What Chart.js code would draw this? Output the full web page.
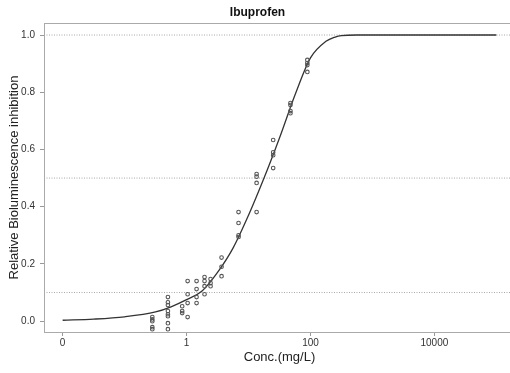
<!DOCTYPE html>
<html>
<head>
<meta charset="utf-8">
<script src="https://cdn.jsdelivr.net/npm/chart.js@4/dist/chart.umd.min.js"></script>
<style>
html,body{margin:0;padding:0;overflow:hidden;background:#fff;width:510px;height:373px;}
canvas{display:block;}
</style>
</head>
<body>
<canvas id="c" width="554" height="373"></canvas>
<script>
// Fitted curve (concentration mg/L, relative inhibition)
const CURVE_X = [0.01, 0.0316, 0.1, 0.316, 0.562, 1, 1.78, 3.16, 5.62, 10, 17.8, 31.6, 56.2, 100, 178, 250, 316, 562, 1000, 100000];
const CURVE_Y = [0.003, 0.007, 0.015, 0.032, 0.05, 0.075, 0.105, 0.17, 0.255, 0.37, 0.50, 0.64, 0.79, 0.92, 0.978, 0.993, 0.998, 1.0, 1.0, 1.0];

// Observations
const OBS_X = [
  0.28,0.28,0.28,0.28,0.28,
  0.5,0.5,0.5,0.5,0.5,0.5,0.5,0.5,
  0.85,0.85,0.85,
  1.04,1.04,1.04,1.04,
  1.45,1.45,1.45,1.45,
  1.95,1.95,1.95,1.95,
  2.44,2.44,2.44,
  3.67,3.67,3.67,
  6.9,6.9,6.9,6.9,
  13.5,13.5,13.5,13.5,
  25,25,25,25,
  47.5,47.5,47.5,47.5,
  89,89,89,89
];
const OBS_Y = [
  0.014,0.006,0.0,-0.021,-0.028,
  0.084,0.066,0.056,0.035,0.024,0.017,-0.007,-0.028,
  0.052,0.035,0.028,
  0.14,0.094,0.063,0.014,
  0.14,0.112,0.084,0.063,
  0.154,0.14,0.122,0.094,
  0.147,0.133,0.122,
  0.222,0.19,0.157,
  0.381,0.343,0.30,0.294,
  0.514,0.505,0.483,0.381,
  0.633,0.59,0.58,0.535,
  0.762,0.755,0.734,0.727,
  0.913,0.902,0.895,0.871
];

const REF_LEVELS = [0.1, 0.5, 1.0];
const X_TICKS = [0.01, 1, 100, 10000];
const X_TICK_LABELS = ['0', '1', '100', '10000'];
const Y_TICKS = [0, 0.2, 0.4, 0.6, 0.8, 1.0];
const X_MIN = 0.005, X_MAX = 200000;
const Y_MIN = -0.038, Y_MAX = 1.042;

const FONT = "'Liberation Sans', Arial, Helvetica, sans-serif";

const refSets = REF_LEVELS.map(v => ({
  type: 'line',
  data: [{x: X_MIN, y: v}, {x: X_MAX, y: v}],
  borderColor: '#a8a8a8',
  borderWidth: 1,
  borderDash: [1, 1.5],
  pointRadius: 0,
  order: 3
}));

const framePlugin = {
  id: 'frame',
  afterDraw(chart) {
    const a = chart.chartArea, ctx = chart.ctx;
    ctx.save();
    ctx.strokeStyle = '#aaaaaa';
    ctx.lineWidth = 1;
    ctx.strokeRect(Math.round(a.left) + 0.5, Math.round(a.top) + 0.5, a.right - a.left, a.bottom - a.top);
    ctx.restore();
  }
};

new Chart(document.getElementById('c'), {
  type: 'line',
  data: {
    datasets: [
      ...refSets,
      {
        type: 'line',
        data: CURVE_X.map((x, i) => ({x, y: CURVE_Y[i]})),
        borderColor: '#333333',
        borderWidth: 1.3,
        pointRadius: 0,
        cubicInterpolationMode: 'monotone',
        order: 2
      },
      {
        type: 'scatter',
        data: OBS_X.map((x, i) => ({x, y: OBS_Y[i]})),
        borderColor: '#555555',
        backgroundColor: 'rgba(0,0,0,0)',
        borderWidth: 1.1,
        pointRadius: 1.8,
        order: 1
      }
    ]
  },
  options: {
    responsive: false,
    animation: false,
    layout: {padding: {left: 0, right: 39, top: 0, bottom: 0}},
    plugins: {
      legend: {display: false},
      tooltip: {enabled: false},
      title: {
        display: true,
        text: 'Ibuprofen',
        color: '#111',
        font: {family: FONT, size: 12, weight: 'bold'},
        padding: {top: 5.5, bottom: 3.1}
      }
    },
    scales: {
      x: {
        type: 'logarithmic',
        min: X_MIN,
        max: X_MAX,
        afterBuildTicks(s) { s.ticks = X_TICKS.map(v => ({value: v})); },
        afterFit(s) { s.height = 41; },
        ticks: {
          autoSkip: false,
          maxRotation: 0,
          padding: 1,
          color: '#333',
          font: {family: FONT, size: 10},
          callback(v) { const i = X_TICKS.indexOf(v); return i >= 0 ? X_TICK_LABELS[i] : ''; }
        },
        grid: {display: true, drawOnChartArea: false, tickLength: 4, color: '#999'},
        border: {display: true, color: '#aaa'},
        title: {
          display: true,
          text: 'Conc.(mg/L)',
          color: '#222',
          font: {family: FONT, size: 13},
          padding: {top: 0, bottom: 8}
        }
      },
      y: {
        type: 'linear',
        min: Y_MIN,
        max: Y_MAX,
        afterBuildTicks(s) { s.ticks = Y_TICKS.map(v => ({value: v})); },
        afterFit(s) { s.width = 44; },
        ticks: {
          padding: 5,
          color: '#333',
          font: {family: FONT, size: 10},
          callback(v) { return Number(v).toFixed(1); }
        },
        grid: {display: true, drawOnChartArea: false, tickLength: 4, color: '#999'},
        border: {display: true, color: '#aaa'},
        title: {
          display: true,
          text: 'Relative Bioluminescence inhibition',
          color: '#222',
          font: {family: FONT, size: 13},
          padding: {top: 7, bottom: 0}
        }
      }
    }
  },
  plugins: [framePlugin]
});
</script>
</body>
</html>
